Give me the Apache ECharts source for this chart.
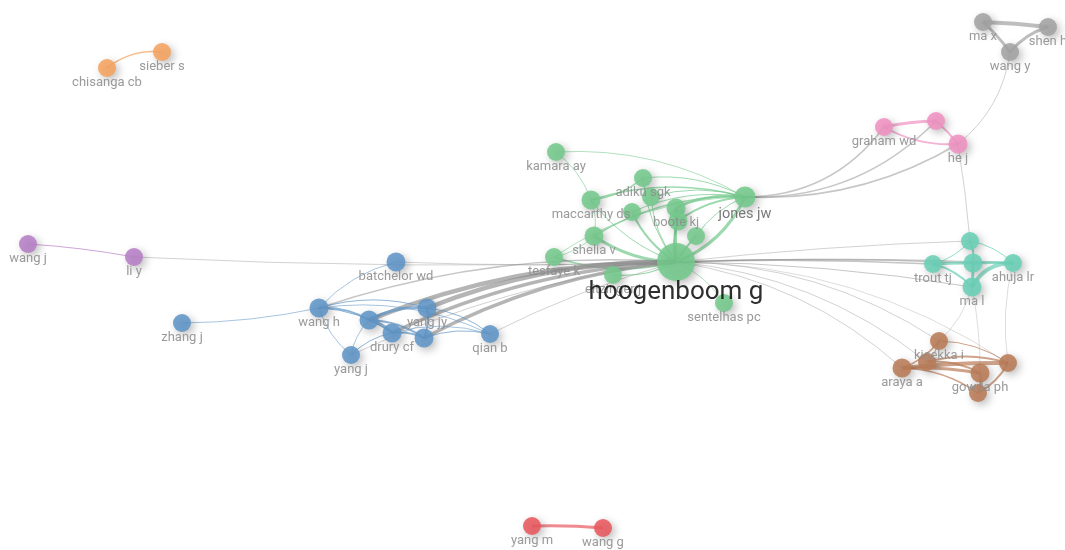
<!DOCTYPE html>
<html>
<head>
<meta charset="utf-8">
<script src="https://cdn.jsdelivr.net/npm/echarts@6/dist/echarts.min.js"></script>
<style>
  html, body { margin: 0; padding: 0; background: #fff; }
  #chart { width: 1065px; height: 550px; }
</style>
</head>
<body>
<div id="chart"></div>
<script>
// nodes (layout coordinates)
const names = [
  "kamara ay", "adiku sgk", "maccarthy ds", "node 4", "node 5", "boote kj", "node 7", "node 8",
  "jones jw", "shelia v", "tesfaye k", "eitzinger j", "sentelhas pc",
  "batchelor wd", "wang h", "node 16", "yang jy", "drury cf", "node 19", "qian b", "yang j", "zhang j",
  "wang j", "li y", "sieber s", "chisanga cb", "ma x", "shen h", "wang y",
  "graham wd", "node 31", "he j",
  "node 33", "trout tj", "node 35", "ahuja lr", "ma l",
  "kisekka i", "node 39", "araya a", "node 41", "gowda ph", "node 43",
  "yang m", "wang g", "hoogenboom g"
];
// 0 = label hidden (overlapping in the original map)
const showLabel = [
  1, 1, 1, 0, 0, 1, 0, 0,
  1, 1, 1, 1, 1,
  1, 1, 0, 1, 1, 0, 1, 1, 1,
  1, 1, 1, 1, 1, 1, 1,
  1, 0, 1,
  0, 1, 0, 1, 1,
  1, 0, 1, 0, 1, 0,
  1, 1, 1
];
const xs = [
  556, 643, 591, 632, 651, 676, 678, 696,
  745, 594, 554, 613, 724,
  396, 319, 369, 427, 392, 424, 490, 351, 182,
  28, 134, 162, 107, 983, 1048, 1010,
  884, 936, 958,
  970, 933, 973, 1013, 972,
  939, 927, 902, 1008, 980, 978,
  532, 603, 676
];
const ys = [
  152, 178, 200, 212, 197, 208, 221, 236,
  197, 236, 257, 275, 303,
  262, 308, 320, 308, 333, 338, 334, 355, 323,
  244, 257, 52, 68, 22, 27, 52,
  127, 121, 144,
  241, 264, 263, 263, 287,
  341, 362, 368, 363, 373, 393,
  526, 528, 262
];
const sizes = [
  18, 18, 19, 18, 18, 19, 19, 18,
  21, 19, 18, 18, 18,
  19, 19, 19, 19, 19, 19, 18, 18, 18,
  18, 18, 18, 18, 18, 18, 18,
  18, 18, 19,
  18, 18, 19, 18, 19,
  18, 18, 19, 18, 19, 18,
  18, 18, 38
];
const groups = [
  0, 0, 0, 0, 0, 0, 0, 0,
  0, 0, 0, 0, 0,
  1, 1, 1, 1, 1, 1, 1, 1, 1,
  2, 2, 3, 3, 4, 4, 4,
  5, 5, 5,
  6, 6, 6, 6, 6,
  7, 7, 7, 7, 7, 7,
  8, 8, 0
];
const colors = ["#74c98c", "#5f95c6", "#b680c6", "#f5a35f", "#a3a3a3", "#ef92c2", "#6ad0b6", "#b97c58", "#e8595f"];

// links: [source index, target index, strength, curveness]
const H = 45;
const links = [
  [H, 8, 3, -0.2], [H, 5, 3, 0.02], [H, 9, 3, 0.15], [H, 3, 2], [H, 7, 2, 0.05], [H, 6, 2], [H, 10, 1.5],
  [H, 11, 1.2], [H, 12, 0.8], [H, 2, 1], [H, 1, 1], [H, 4, 1],
  [0, 2, 0.8], [0, 8, 0.8], [1, 2, 1.5], [1, 8, 1], [2, 8, 1.5], [2, 9, 0.8],
  [5, 8, 2.5], [6, 8, 2], [9, 8, 1.5], [7, 8, 1], [3, 8, 1], [4, 8, 1], [9, 10, 0.8], [10, 8, 0.8],
  [H, 16, 4.5, -0.1], [H, 15, 4.5, -0.1], [H, 17, 3.5, -0.1], [H, 18, 3.5, -0.1], [H, 14, 1.5, -0.1],
  [H, 13, 0.8, 0.02], [H, 23, 0.8, 0.02], [H, 19, 0.8, -0.05], [H, 20, 0.8, -0.08],
  [8, 29, 1.5, -0.25], [8, 30, 1.5, -0.22], [8, 31, 1.5, -0.15],
  [H, 33, 1.5, 0.02], [H, 34, 1.5, 0.02], [H, 35, 1, 0.02], [H, 32, 0.8, 0.02], [H, 36, 1, 0.04],
  [H, 37, 0.8], [H, 39, 0.8], [H, 38, 0.8], [H, 40, 0.6],
  [31, 28, 0.8, -0.2], [31, 32, 0.8, 0.02], [36, 37, 0.6], [36, 41, 0.6, 0.05], [35, 40, 0.6, -0.1],
  [22, 23, 1, 0.03], [24, 25, 1.5, -0.2],
  [26, 27, 4, 0.02], [26, 28, 3, 0.05], [27, 28, 3, -0.15],
  [29, 30, 3, 0.05], [29, 31, 2, -0.15], [30, 31, 2, 0.05],
  [32, 33, 1], [32, 34, 2], [32, 35, 1], [33, 34, 3, 0.02], [34, 35, 3, 0.02], [35, 36, 4, -0.3],
  [34, 36, 3, 0.02], [33, 36, 2],
  [39, 40, 4, 0.03], [39, 41, 3, 0.05], [38, 40, 2], [37, 40, 1], [37, 39, 1.5], [38, 41, 2],
  [41, 42, 2], [40, 42, 2], [39, 42, 1.5], [37, 38, 1],
  [14, 15, 2], [14, 16, 1], [14, 17, 1], [14, 19, 0.8], [14, 21, 0.8, 0.05], [14, 13, 0.8],
  [15, 16, 3], [15, 17, 3], [15, 18, 2], [16, 18, 2], [17, 18, 2], [16, 19, 1], [18, 19, 1],
  [17, 19, 0.8], [20, 17, 1], [20, 15, 0.8], [20, 14, 0.8],
  [43, 44, 3, 0.03]
];

const chart = echarts.init(document.getElementById("chart"));

const nodes = names.map((n, i) => {
  const isHub = n === "hoogenboom g";
  const isJones = n === "jones jw";
  return {
    name: n,
    value: [xs[i], ys[i]],
    symbolSize: sizes[i],
    itemStyle: { color: colors[groups[i]] },
    label: {
      show: !!showLabel[i],
      fontSize: isHub ? 26 : isJones ? 14.5 : 13,
      color: isHub ? "#111" : isJones ? "#666" : "#8c8c8c",
      distance: isHub ? -2 : -1
    }
  };
});

const edges = links.map(([s, t, w, c]) => {
  const same = groups[s] === groups[t];
  return {
    source: names[s],
    target: names[t],
    lineStyle: {
      width: w,
      curveness: c === undefined ? 0.15 : c,
      color: same ? colors[groups[s]] : "#8e8e8e",
      opacity: same ? 0.7 : (w >= 3 ? 0.65 : 0.5)
    }
  };
});

chart.setOption({
  backgroundColor: "#fff",
  animation: false,
  grid: { left: 0, right: 0, top: 0, bottom: 0 },
  xAxis: { type: "value", min: 0, max: 1065, show: false },
  yAxis: { type: "value", min: 0, max: 550, inverse: true, show: false },
  series: [{
    type: "graph",
    coordinateSystem: "cartesian2d",
    layout: "none",
    data: nodes,
    links: edges,
    itemStyle: {
      opacity: 0.88,
      shadowBlur: 8,
      shadowColor: "rgba(0,0,0,0.3)",
      shadowOffsetX: 3,
      shadowOffsetY: 3
    },
    label: {
      position: "bottom",
      fontFamily: "Roboto",
      formatter: "{b}"
    },
    emphasis: { disabled: true }
  }]
});
</script>
</body>
</html>
